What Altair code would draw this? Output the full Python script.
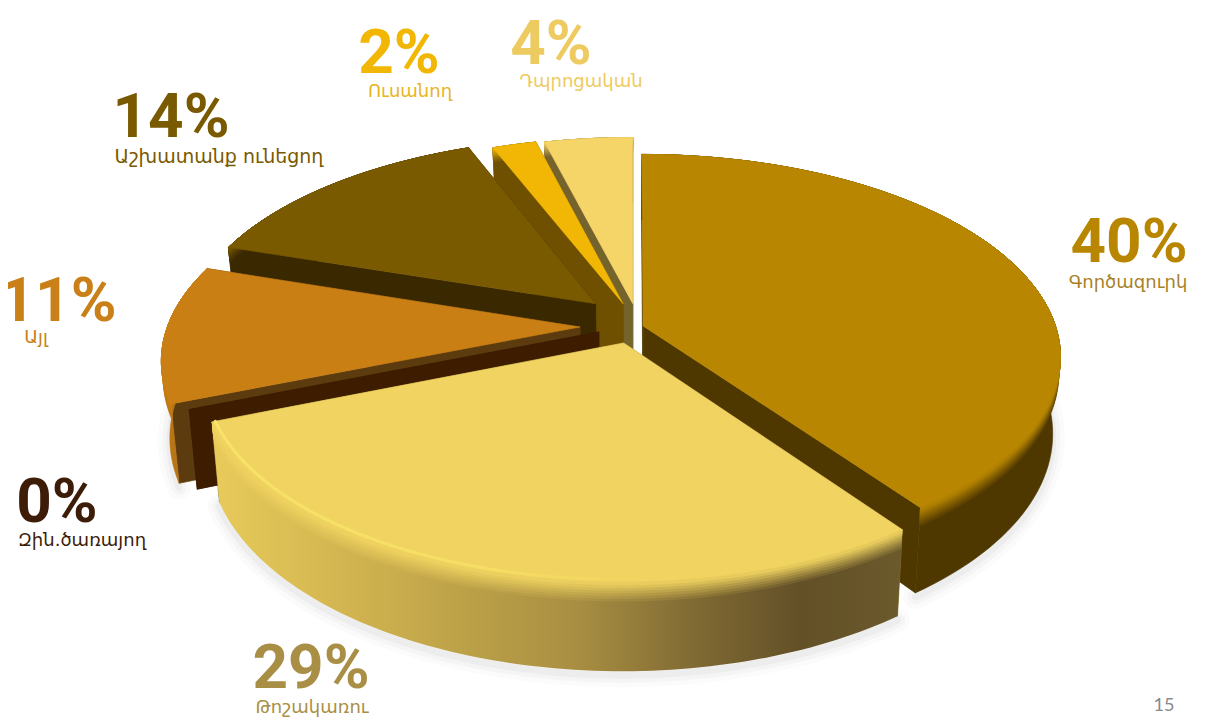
import math
import altair as alt

# ---- data ----
categories = ["Գործազուրկ", "Թոշակառու", "Զին.ծառայող", "Այլ", "Աշխատանք ունեցող", "Ուսանող", "Դպրոցական"]
values = [40, 29, 0, 11, 14, 2, 4]

# ---- styles ----
top_colors = ["#b88600", "#f0d360", "#3d1c00", "#c97f14", "#7a5a00", "#f2b705", "#f5d468"]
wall_colors = ["#4f3800", "#8a7430", "#3d1c00", "#5c3c0e", "#3a2800", "#6e5000", "#75632c"]
side_colors = ["#4f3800", "#a08840", "#3d1c00", "#b87415", "#3a2800", "#6e5000", "#75632c"]
text_colors = ["#b88600", "#a98f45", "#3d1c08", "#c98018", "#7a5a00", "#f2b705", "#eecb60"]
sub_colors = ["#a8822a", "#a98f45", "#3d1c08", "#c98018", "#7a5a00", "#e8b520", "#eecb60"]
explode = [(0.027, -0.005), (-0.02, -0.09), (-0.08, -0.035), (-0.126, -0.01), (-0.09, 0.11), (-0.022, 0.11), (0.002, 0.11)]
pct_pos = [(1129, 262), (311, 688), (57, 522), (58, 321), (171, 137), (399, 73), (551, 64)]
sub_pos = [(1128, 290), (312, 715), (82, 548), (36, 345), (219, 165), (410, 99), (581, 89)]
sub_size = [18, 18, 18, 18, 19, 18, 18]
draw_order = [6, 5, 4, 3, 2, 0, 1]

PERSP = 0.15
DEPTH = 0.38
CX, CY, AX, BY = 632, 325, 412, 197
W, H = 1192, 712
x_scale = alt.Scale(domain=[(8 - CX) / AX, (8 + W - CX) / AX], range=[0, W], nice=False, zero=False)
y_scale = alt.Scale(domain=[(CY - 8 - H) / BY, (CY - 8) / BY], range=[H, 0], nice=False, zero=False)


def proj(theta, r, e, t=0.0):
    u = r * math.sin(theta) + e[0]
    v = r * math.cos(theta) + e[1]
    w = 1 + PERSP * v
    return (u / w * (1 - 0.018 * t), v / w - DEPTH * t / w)


def mix(c1, c2, k):
    a = [int(c1[i:i + 2], 16) for i in (1, 3, 5)]
    b = [int(c2[i:i + 2], 16) for i in (1, 3, 5)]
    return "#%02x%02x%02x" % tuple(round(x + (y - x) * k) for x, y in zip(a, b))


def poly(points, fill, stroke=None):
    rows = [{"x": p[0], "y": p[1], "o": i} for i, p in enumerate(points + points[:1])]
    solid = isinstance(fill, str)
    return alt.Chart(alt.Data(values=rows)).mark_line(
        fill=fill, stroke=(fill if solid else (stroke or "#00000000")), strokeWidth=0.6, interpolate="linear"
    ).encode(
        x=alt.X("x:Q", scale=x_scale, axis=None),
        y=alt.Y("y:Q", scale=y_scale, axis=None),
        order=alt.Order("o:Q"),
    )


def curve(points, stroke, width, opacity=1.0):
    rows = [{"x": p[0], "y": p[1], "o": i} for i, p in enumerate(points)]
    return alt.Chart(alt.Data(values=rows)).mark_line(
        stroke=stroke, strokeWidth=width, opacity=opacity, strokeCap="round"
    ).encode(
        x=alt.X("x:Q", scale=x_scale, axis=None),
        y=alt.Y("y:Q", scale=y_scale, axis=None),
        order=alt.Order("o:Q"),
    )


def angles():
    out, c = [], 0.0
    for v in values:
        out.append((2 * math.pi * c / 100, 2 * math.pi * (c + v) / 100))
        c += v
    return out


def arc(a0, a1, r, e, t=0.0, n=90):
    return [proj(a0 + (a1 - a0) * i / n, r, e, t) for i in range(n + 1)]


def grad(stops):
    return alt.Gradient(gradient="linear", x1=0, x2=1, y1=0, y2=0,
                        stops=[alt.GradientStop(offset=o, color=c) for o, c in stops])


ANG = angles()
layers = []

# soft shadow under the front of the pie
for i, (a0, a1) in ((3, ANG[3]), (1, ANG[1]), (0, (ANG[0][0] + 1.2, ANG[0][1]))):
    for width, op in ((24, 0.03), (15, 0.045), (7, 0.06)):
        pts = [(x, y - 0.02) for x, y in arc(a0, a1, 1, explode[i], 1.0)]
        layers.append(curve(pts, "#777777", width, op))

yellow_stops = [(0.0, "#e8cb5a"), (0.27, "#c9ac4c"), (0.53, "#a88e42"), (0.70, "#806a33"), (0.85, "#635027"), (1.0, "#6b5a2c")]
rim_bands = [(1.0, 0.0), (0.22, 0.12), (0.19, 0.25), (0.16, 0.38), (0.13, 0.52), (0.10, 0.66), (0.07, 0.8), (0.04, 0.92)]

for i in draw_order:
    a0, a1 = ANG[i]
    e = explode[i]
    apex_top, apex_bot = proj(0, 0, e), proj(0, 0, e, 1.0)
    for a in (a0, a1):
        layers.append(poly([apex_top, proj(a, 1, e), proj(a, 1, e, 1.0), apex_bot], wall_colors[i]))
    if values[i] == 0:
        continue
    top_c = top_colors[i]
    for t, k in rim_bands:
        pts = arc(a0, a1, 1, e, 0.0) + arc(a0, a1, 1, e, t)[::-1]
        if i == 1:
            fill = grad([(o, mix(c, top_c, k)) for o, c in yellow_stops])
        else:
            fill = mix(side_colors[i], top_c, k)
        layers.append(poly(pts, fill))
    layers.append(poly([apex_top] + arc(a0, a1, 1, e), top_c))
    if i == 1:
        layers.append(curve(arc(a0 + 0.6, a1, 0.992, e), grad([(0, "#f8e268"), (0.65, "#f6de64"), (1, "#f0d360")]), 3))

# labels
for i in range(len(values)):
    layers.append(alt.Chart(alt.Data(values=[{"t": f"{values[i]}%"}])).mark_text(
        font="Roboto", fontWeight="bold", fontSize=62, color=text_colors[i], align="center", baseline="alphabetic"
    ).encode(text="t:N", x=alt.value(pct_pos[i][0] - 8), y=alt.value(pct_pos[i][1] - 8)))
    layers.append(alt.Chart(alt.Data(values=[{"t": categories[i]}])).mark_text(
        font="DejaVu Sans", fontSize=sub_size[i], color=sub_colors[i], align="center", baseline="alphabetic"
    ).encode(text="t:N", x=alt.value(sub_pos[i][0] - 8), y=alt.value(sub_pos[i][1] - 10)))

layers.append(alt.Chart(alt.Data(values=[{"t": "15"}])).mark_text(
    font="Lato", fontSize=18, color="#8a8a8a", align="center", baseline="alphabetic"
).encode(text="t:N", x=alt.value(1156), y=alt.value(703)))

chart = alt.layer(*layers).properties(
    width=W, height=H, padding=0, background="white",
    autosize=alt.AutoSizeParams(type="none"),
).configure_view(stroke=None)

chart.save("out.html", embed_options={"renderer": "svg", "actions": False})
